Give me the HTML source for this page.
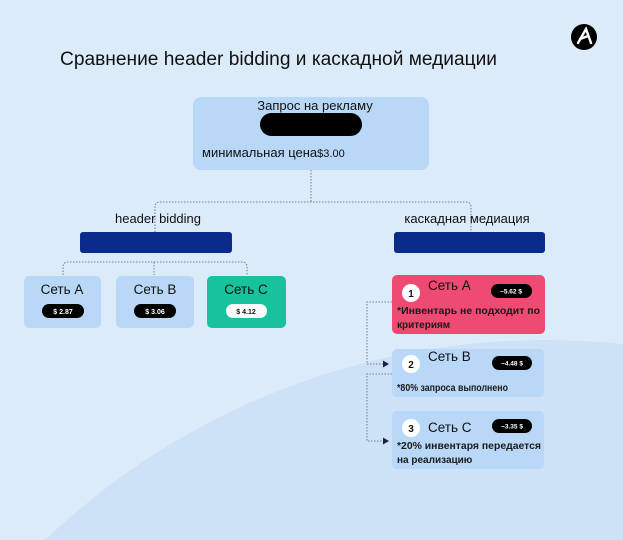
<!DOCTYPE html>
<html><head><meta charset="utf-8"><style>
html,body{margin:0;padding:0;width:623px;height:540px;overflow:hidden;background:#dcebf9}
svg{display:block}
text{font-family:"Liberation Sans","DejaVu Sans",sans-serif}
</style></head><body>
<svg width="623" height="540" viewBox="0 0 623 540" xmlns="http://www.w3.org/2000/svg">
<rect width="623" height="540" fill="#dcebf9"/>
<circle cx="545" cy="1065" r="725" fill="#cde2f7"/>
<circle cx="584" cy="37" r="13" fill="#000"/>
<path d="M578 43 L586 29 L591 43 M580 39 L588 36" stroke="#fff" stroke-width="2.4" fill="none" stroke-linecap="round"/>
<text x="60" y="65" font-size="19" fill="#111" textLength="437" lengthAdjust="spacingAndGlyphs">Сравнение header bidding и каскадной медиации</text>
<rect x="193" y="97" width="236" height="73" rx="8" fill="#b9d8f7"/>
<text x="315" y="110" font-size="13" fill="#111" text-anchor="middle">Запрос на рекламу</text>
<rect x="260" y="113" width="102" height="23" rx="11.5" fill="#000"/>
<text x="202" y="157" font-size="13" fill="#111">минимальная цена<tspan font-size="11">$3.00</tspan></text>
<g stroke="#6f7f95" stroke-width="1" stroke-dasharray="1.5 1.5" fill="none">
<path d="M311 170 V202"/>
<path d="M155 232 V207 Q155 202 160 202 H466 Q471 202 471 207 V232"/>
<path d="M63 275 V267 Q63 262 68 262 H242 Q247 262 247 267 V275"/>
<path d="M154 262 V275"/>
<path d="M392 302 H367 V364 H384"/>
<path d="M392 374 H367 V441 H384"/>
</g>
<path d="M383 360.5 L389 364 L383 367.5Z" fill="#1a2440"/>
<path d="M383 437.5 L389 441 L383 444.5Z" fill="#1a2440"/>
<text x="158" y="223" font-size="13" fill="#111" text-anchor="middle">header bidding</text>
<text x="467" y="223" font-size="13" fill="#111" text-anchor="middle">каскадная медиация</text>
<rect x="80" y="232" width="152" height="21" rx="3" fill="#0b2b8c"/>
<rect x="394" y="232" width="151" height="21" rx="3" fill="#0b2b8c"/>
<rect x="24" y="276" width="77" height="52" rx="5" fill="#b9d8f7"/>
<rect x="116" y="276" width="78" height="52" rx="5" fill="#b9d8f7"/>
<rect x="207" y="276" width="79" height="52" rx="5" fill="#17c29d"/>
<g font-size="13.5" fill="#111" text-anchor="middle">
<text x="62" y="294">Сеть A</text><text x="155" y="294">Сеть B</text><text x="246" y="294">Сеть C</text>
</g>
<rect x="42" y="304" width="42" height="14" rx="7" fill="#000"/>
<rect x="134" y="304" width="42" height="14" rx="7" fill="#000"/>
<rect x="226" y="304" width="41" height="14" rx="7" fill="#fff"/>
<g font-size="7" font-weight="bold" text-anchor="middle">
<text x="63" y="314" fill="#fff">$ 2.87</text><text x="155" y="314" fill="#fff">$ 3.06</text><text x="246" y="314" fill="#111">$ 4.12</text>
</g>
<rect x="392" y="275" width="153" height="59" rx="5" fill="#ee4a72"/>
<rect x="392" y="349" width="152" height="48" rx="5" fill="#b9d8f7"/>
<rect x="392" y="411" width="152" height="58" rx="5" fill="#b9d8f7"/>
<circle cx="411" cy="293" r="9" fill="#fff"/>
<circle cx="411" cy="364" r="9" fill="#fff"/>
<circle cx="411" cy="428" r="9" fill="#fff"/>
<g font-size="10" font-weight="bold" fill="#111" text-anchor="middle">
<text x="411" y="297">1</text><text x="411" y="368">2</text><text x="411" y="432">3</text>
</g>
<g font-size="13.5" fill="#111">
<text x="428" y="290">Сеть A</text><text x="428" y="361">Сеть B</text><text x="428" y="432">Сеть C</text>
</g>
<rect x="491" y="284" width="41" height="14" rx="7" fill="#000"/>
<rect x="492" y="356" width="40" height="14" rx="7" fill="#000"/>
<rect x="492" y="419" width="40" height="14" rx="7" fill="#000"/>
<g font-size="6.5" font-weight="bold" fill="#fff" text-anchor="middle">
<text x="511" y="293.5">−5.62 $</text><text x="512" y="365.5">−4.48 $</text><text x="512" y="428.5">−3.35 $</text>
</g>
<g font-size="10" font-weight="bold" fill="#1a1a1a">
<text x="397" y="314" textLength="143" lengthAdjust="spacingAndGlyphs">*Инвентарь не подходит по</text>
<text x="397" y="328">критериям</text>
<text x="397" y="391" textLength="111" lengthAdjust="spacingAndGlyphs">*80% запроса выполнено</text>
<text x="397" y="449" textLength="144" lengthAdjust="spacingAndGlyphs">*20% инвентаря передается</text>
<text x="397" y="463">на реализацию</text>
</g>
</svg>
</body></html>
